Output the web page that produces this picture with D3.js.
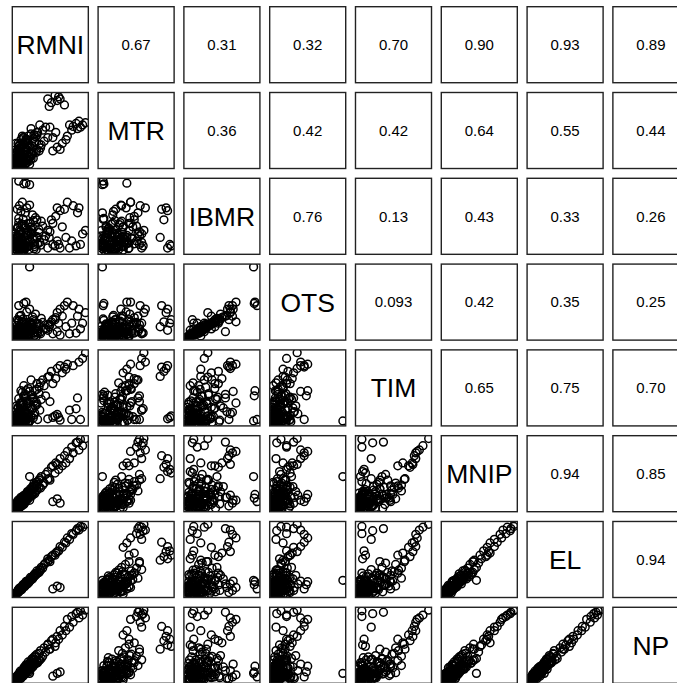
<!DOCTYPE html>
<html>
<head>
<meta charset="utf-8">
<script src="https://cdn.jsdelivr.net/npm/d3@7"></script>
<style>
  body { margin: 0; background: #fff; }
  text { font-family: "Liberation Sans", Arial, Helvetica, sans-serif; fill: #000; }
</style>
</head>
<body>
<div id="pairs"></div>
<script>
// variable names (diagonal)
const vars = ["RMNI", "MTR", "IBMR", "OTS", "TIM", "MNIP", "EL", "NP"];

// correlation labels, upper triangle, row by row
const corrText = [
    ["0.67", "0.31", "0.32", "0.70", "0.90", "0.93", "0.89"],
    ["0.36", "0.42", "0.42", "0.64", "0.55", "0.44"],
    ["0.76", "0.13", "0.43", "0.33", "0.26"],
    ["0.093", "0.42", "0.35", "0.25"],
    ["0.65", "0.75", "0.70"],
    ["0.94", "0.85"],
    ["0.94"]
];

const RMNI = [97,93,90,88,86,84,80,78,75,72,70,68,65,62,60,58,55,50,47,45,
    20,5,12,15,
    2,9,4,17,6,13,21,11,27,7,33,15,24,3,30,19,36,12,26,8,40,18,31,5,23,38,14,28,10,42,16,35,1,22,29,45,20,34,
    3,6,10,14,1,4,8,12,18,22,26,30,52,58,62,
    1,5,3,8,2,10,6,12,4,15,7,13,0,18,9,16,5,20,11,25,2,14,22,8,3,0,17,6,
    1,4,7,10,13,2,19,5,24,9,15,3,27,12,6,21,0,17,8,30,11,4,25,14,7,18,1,10,33,5,
    52,48,56];
const MTR = [58,55,52,60,50,57,53,48,55,40,35,82,30,90,93,88,95,85,80,90,
    2,3,4,35,
    7,2,14,8,19,25,12,3,31,23,20,36,16,11,41,6,28,29,37,17,33,9,45,26,15,48,21,39,5,52,34,24,4,43,18,38,27,55,
    20,28,40,2,30,30,35,38,40,50,42,45,20,25,22,
    3,9,1,13,6,2,16,10,21,7,0,18,8,24,14,4,27,11,30,19,12,32,9,22,5,2,35,1,
    10,0,15,7,20,17,13,4,26,8,22,2,33,6,24,16,5,28,11,22,38,13,10,3,19,31,0,16,29,9,
    38,52,45];
const IBMR = [30,25,10,62,55,8,65,15,5,70,20,60,35,58,10,62,8,45,20,5,
    95,100,96,97,
    3,18,9,27,2,38,14,46,7,24,31,12,52,33,19,8,43,21,4,57,17,29,11,41,26,36,6,48,15,22,62,9,22,35,3,30,66,13,
    60,65,70,55,20,35,12,5,40,25,18,45,10,15,5,
    7,2,12,5,19,8,27,1,14,34,10,4,25,16,39,6,20,28,2,44,9,13,31,17,1,4,23,30,
    0,22,11,36,8,15,3,47,18,6,26,13,10,20,3,40,17,7,29,21,12,5,33,9,24,14,8,1,27,16,
    40,28,50];
const OTS = [35,20,12,40,30,6,45,20,5,50,15,45,30,40,20,35,25,22,15,10,
    100,45,48,50,
    1,6,5,15,1,22,10,26,3,11,19,9,29,17,8,4,27,14,2,31,13,16,6,23,18,21,2,33,8,12,36,5,12,20,1,18,40,7,
    25,30,22,8,2,12,4,1,15,8,6,20,5,8,3,
    3,0,6,2,9,4,14,0,7,18,3,1,11,8,21,3,10,13,1,25,5,7,17,9,0,2,12,16,
    0,10,6,19,3,8,2,24,10,3,14,5,6,11,1,22,9,4,15,11,5,2,19,4,12,9,4,0,15,7,
    25,18,28];
const TIM = [98,90,5,85,35,20,80,5,18,82,75,78,70,80,8,76,10,72,65,6,
    3,5,38,45,
    0,12,3,6,18,9,30,2,14,25,41,4,21,8,47,1,33,37,11,16,52,27,5,34,19,60,7,24,43,38,13,56,2,9,29,64,44,18,
    5,15,28,40,1,22,45,52,48,60,30,55,8,12,4,
    5,1,9,3,2,15,0,22,11,6,28,17,4,8,20,31,13,3,26,36,7,0,39,6,14,0,23,10,
    2,6,19,1,12,24,9,4,33,0,15,8,45,5,16,21,3,0,27,26,10,20,7,35,1,14,11,4,50,0,
    55,30,62];
const MNIP = [98,88,97,82,93,92,78,86,70,80,64,74,60,70,55,62,50,58,42,52,
    45,10,15,20,
    8,4,12,24,3,9,28,17,21,13,40,11,31,10,26,22,45,6,35,16,36,14,38,1,18,33,20,24,15,48,19,29,5,27,37,41,12,42,
    4,8,12,16,2,6,10,14,20,25,28,32,10,14,8,
    2,9,1,6,7,14,2,16,4,19,10,8,3,24,12,13,8,17,18,30,0,15,20,11,6,1,21,5,
    4,6,5,12,10,2,23,7,20,14,17,0,32,9,10,26,2,14,13,34,8,4,22,18,3,21,1,11,30,8,
    60,40,64];
const EL = [98,94,95,90,92,89,84,85,77,79,72,73,66,67,61,60,55,53,48,50,
    20,8,14,18,
    3,7,6,15,9,11,24,14,29,8,31,18,22,2,33,17,38,13,25,10,42,20,30,4,23,37,16,27,12,44,15,34,1,21,28,46,19,35,
    3,6,10,15,1,5,8,12,19,23,27,30,8,12,10,
    1,5,3,9,2,10,6,12,5,14,7,13,0,19,8,17,4,21,11,24,2,14,22,7,3,0,16,6,
    1,4,8,10,13,2,18,6,25,9,15,4,27,12,7,20,1,18,9,30,11,3,26,13,7,17,0,10,32,5,
    55,46,58];
const NP = [99,92,98,88,96,94,82,90,75,86,70,76,64,70,58,62,48,56,44,50,
    10,5,12,20,
    1,11,2,20,8,17,16,6,33,4,28,22,19,5,37,12,31,18,29,3,46,26,25,9,30,34,9,35,7,40,14,42,3,17,24,51,23,29,
    2,5,8,14,1,4,9,11,18,21,25,28,6,10,12,
    4,2,6,12,0,7,10,15,1,11,13,19,2,14,5,21,8,25,9,20,3,16,27,4,1,0,13,7,
    0,3,9,8,15,5,16,4,30,6,12,7,23,14,3,18,1,20,11,26,13,2,32,10,8,19,2,12,38,5,
    58,44,53];

const columns = [RMNI, MTR, IBMR, OTS, TIM, MNIP, EL, NP];

var width = 677, height = 683;

var svg = d3.select("#pairs")
    .append("svg")
    .attr("width", width)
    .attr("height", height);

svg.append("rect").attr("width", width).attr("height", height).attr("fill", "#fff");

// panel grid (the plot is cropped at the right and bottom edges)
var gx = d3.scaleBand().domain(d3.range(8)).range([12.3, 688.9]).paddingInner(0.114);
var gy = d3.scaleBand().domain(d3.range(8)).range([6.7, 683.3]).paddingInner(0.114);
var pw = gx.bandwidth(), ph = gy.bandwidth();

// per-variable scales, R style 4% padding
function padded(arr) {
    var e = d3.extent(arr), p = (e[1] - e[0]) * 0.04;
    return [e[0] - p, e[1] + p];
}
var sx = columns.map(c => d3.scaleLinear().domain(padded(c)).range([0, pw]));
var sy = columns.map(c => d3.scaleLinear().domain(padded(c)).range([ph, 0]));

var defs = svg.append("defs");
defs.append("clipPath").attr("id", "panelClip")
    .append("rect").attr("width", pw).attr("height", ph);

for (var i = 0; i < 8; i++) {
    for (var j = 0; j < 8; j++) {
        var g = svg.append("g")
            .attr("transform", "translate(" + gx(j) + "," + gy(i) + ")");

        if (i === j) {
            g.append("text")
                .attr("x", pw / 2).attr("y", ph / 2)
                .attr("dy", "0.36em")
                .attr("text-anchor", "middle")
                .style("font-size", "26.5px")
                .text(vars[i]);
        } else if (i < j) {
            g.append("text")
                .attr("x", pw / 2).attr("y", ph / 2)
                .attr("dy", "0.36em")
                .attr("text-anchor", "middle")
                .style("font-size", "15px")
                .text(corrText[i][j - i - 1]);
        } else {
            var xs = sx[j], ys = sy[i], xc = columns[j], yc = columns[i];
            g.append("g")
                .attr("clip-path", "url(#panelClip)")
                .selectAll("circle")
                .data(d3.range(xc.length))
                .enter().append("circle")
                .attr("cx", k => xs(xc[k]))
                .attr("cy", k => ys(yc[k]))
                .attr("r", 3.9)
                .style("fill", "none")
                .style("stroke", "#000")
                .style("stroke-width", 1.5);
        }

        g.append("rect")
            .attr("width", pw).attr("height", ph)
            .style("fill", "none")
            .style("stroke", "#222")
            .style("stroke-width", 1.4);
    }
}
</script>
</body>
</html>
